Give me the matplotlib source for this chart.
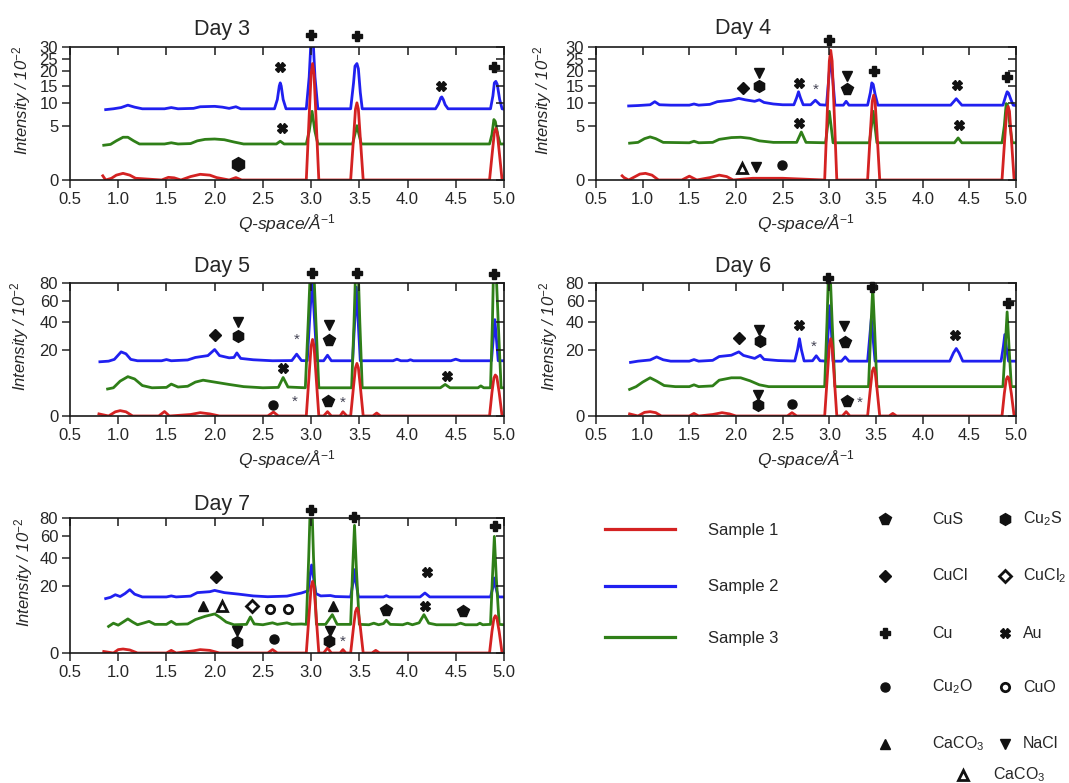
import numpy as np
import matplotlib
matplotlib.use('Agg')
import matplotlib.pyplot as plt

plt.rcParams['font.family'] = ['Liberation Sans', 'DejaVu Sans']
plt.rcParams['mathtext.fontset'] = 'custom'
plt.rcParams['mathtext.rm'] = 'Liberation Sans'
plt.rcParams['mathtext.it'] = 'Liberation Sans:italic'
plt.rcParams['mathtext.bf'] = 'Liberation Sans:bold'

# ---------------- data (Q in 1/Angstrom, intensity in 10^2 units) ----------------
DAYS = ['Day 3', 'Day 4', 'Day 5', 'Day 6', 'Day 7']
X_TICKS = [0.5, 1.0, 1.5, 2.0, 2.5, 3.0, 3.5, 4.0, 4.5, 5.0]
Y_TICKS_LOW = [0, 5, 10, 15, 20, 25, 30]
Y_TICKS_HIGH = [0, 20, 40, 60, 80]

day3_sample1 = [(0.84, 0.03), (0.87, 0.0), (0.93, 0.005), (0.98, 0.04), (1.05, 0.075), (1.12, 0.04), (1.18, 0.005),
                (1.45, 0.0), (1.52, 0.012), (1.58, 0.008), (1.65, 0.0), (1.75, 0.02), (1.85, 0.055), (1.95, 0.04),
                (2.02, 0.01), (2.15, 0.0), (2.22, 0.01), (2.28, 0.0),
                (2.95, 0.0), (2.98, 7), (3.0, 19), (3.015, 23), (3.03, 19), (3.05, 7), (3.08, 0.0),
                (3.41, 0.0), (3.44, 3), (3.46, 8.5), (3.475, 10.1), (3.49, 8.5), (3.51, 3), (3.54, 0.0),
                (4.85, 0.0), (4.88, 1.4), (4.9, 3.8), (4.915, 4.5), (4.93, 3.8), (4.95, 1.4), (4.98, 0.0), (5.0, 0.0)]
day3_sample2 = [(0.87, 8.4), (0.95, 8.6), (1.03, 8.9), (1.1, 9.5), (1.17, 9.0), (1.25, 8.6), (1.48, 8.6), (1.55, 8.9),
                (1.62, 8.6), (1.78, 8.7), (1.85, 9.1), (2.0, 9.2), (2.08, 9.0), (2.15, 8.7), (2.22, 9.1), (2.27, 8.6),
                (2.62, 8.6), (2.65, 11), (2.67, 15), (2.68, 16), (2.69, 15), (2.71, 11), (2.74, 8.6),
                (2.95, 8.6), (2.98, 18), (3.0, 34), (3.01, 40), (3.02, 34), (3.04, 18), (3.07, 8.6),
                (3.41, 8.6), (3.44, 16), (3.455, 22), (3.475, 23), (3.49, 21), (3.51, 13), (3.53, 8.6),
                (4.29, 8.6), (4.32, 9.8), (4.345, 11.5), (4.355, 11.7), (4.37, 11.0), (4.39, 9.6), (4.42, 8.6),
                (4.86, 8.6), (4.885, 12), (4.9, 16), (4.915, 16.5), (4.93, 15.5), (4.955, 11), (4.98, 8.6), (5.0, 8.5)]
day3_sample3 = [(0.85, 2.05), (0.92, 2.15), (0.98, 2.6), (1.05, 3.1), (1.1, 3.1), (1.16, 2.6), (1.22, 2.2), (1.48, 2.2),
                (1.55, 2.35), (1.62, 2.2), (1.75, 2.25), (1.82, 2.6), (1.9, 2.8), (2.0, 2.85), (2.1, 2.75), (2.2, 2.45),
                (2.3, 2.2), (2.64, 2.2), (2.68, 2.55), (2.72, 2.2),
                (2.95, 2.2), (2.98, 4), (3.01, 8), (3.04, 4), (3.07, 2.2),
                (3.43, 2.2), (3.475, 5), (3.52, 2.2),
                (4.85, 2.2), (4.875, 3.5), (4.895, 6.2), (4.91, 5.8), (4.935, 3.5), (4.96, 2.2), (5.0, 2.2)]

day4_sample1 = [(0.78, 0.03), (0.8, 0.01), (0.85, 0.0), (0.92, 0.02), (0.97, 0.06), (1.03, 0.075), (1.1, 0.04), (1.17, 0.0),
                (1.42, 0.0), (1.5, 0.025), (1.58, 0.0), (1.72, 0.01), (1.82, 0.04), (1.9, 0.02), (1.97, 0.0),
                (2.18, 0.005), (2.5, 0.005),
                (2.95, 0.0), (2.98, 9), (3.0, 24), (3.015, 28.5), (3.03, 24), (3.05, 9), (3.08, 0.0),
                (3.41, 0.0), (3.44, 4), (3.46, 10.5), (3.475, 12.2), (3.49, 10.5), (3.51, 4), (3.54, 0.0),
                (4.85, 0.0), (4.88, 3), (4.9, 8), (4.915, 9.2), (4.93, 8), (4.95, 3), (4.98, 0.0), (5.0, 0.0)]
day4_sample2 = [(0.85, 9.3), (0.95, 9.4), (1.08, 9.6), (1.13, 10.4), (1.18, 9.6), (1.3, 9.5), (1.5, 9.5), (1.55, 9.8),
                (1.6, 9.5), (1.72, 9.7), (1.8, 10.4), (1.95, 10.8), (2.03, 11.3), (2.1, 10.9), (2.2, 10.5), (2.25, 10.9),
                (2.3, 10.2), (2.4, 9.8), (2.5, 9.6),
                (2.62, 9.6), (2.65, 11.5), (2.67, 13.2), (2.69, 11.5), (2.72, 9.6),
                (2.8, 9.6), (2.85, 10.8), (2.9, 9.6),
                (2.97, 9.5), (3.0, 20), (3.015, 24), (3.03, 20), (3.06, 9.5),
                (3.15, 9.5), (3.18, 10.5), (3.21, 9.5),
                (3.41, 9.5), (3.44, 13), (3.455, 16), (3.47, 15.5), (3.49, 12.5), (3.52, 9.5),
                (4.3, 9.5), (4.36, 11.2), (4.42, 9.5),
                (4.86, 9.5), (4.89, 12), (4.905, 13.2), (4.92, 12.8), (4.945, 11), (4.97, 9.5), (5.0, 9.4)]
day4_sample3 = [(0.86, 2.3), (0.95, 2.4), (1.02, 2.9), (1.08, 3.15), (1.14, 2.9), (1.22, 2.4), (1.5, 2.35), (1.55, 2.55),
                (1.6, 2.35), (1.75, 2.4), (1.82, 2.8), (1.95, 3.05), (2.05, 3.1), (2.15, 2.95), (2.25, 2.6), (2.4, 2.4),
                (2.65, 2.4), (2.7, 3.9), (2.75, 2.4),
                (2.96, 2.35), (3.0, 8), (3.04, 2.35),
                (3.43, 2.35), (3.47, 8), (3.51, 2.35),
                (4.34, 2.35), (4.38, 3.0), (4.42, 2.35),
                (4.85, 2.35), (4.875, 5), (4.895, 9.9), (4.91, 9.5), (4.935, 5), (4.96, 2.35), (5.0, 2.35)]

day5_sample1 = [(0.8, 0.02), (0.9, 0.0), (0.97, 0.08), (1.02, 0.13), (1.08, 0.08), (1.15, 0.0), (1.42, 0.0), (1.48, 0.09),
                (1.53, 0.0), (1.75, 0.01), (1.85, 0.05), (1.95, 0.02), (2.05, 0.0), (2.55, 0.0), (2.61, 0.07), (2.66, 0.0),
                (2.95, 0.0), (2.98, 8), (3.0, 22), (3.015, 26.5), (3.03, 22), (3.05, 8), (3.08, 0.0),
                (3.13, 0.0), (3.17, 0.085), (3.21, 0.0), (3.3, 0.0), (3.33, 0.08), (3.37, 0.0),
                (3.41, 0.0), (3.44, 4), (3.46, 10.5), (3.475, 12.5), (3.49, 10.5), (3.51, 4), (3.54, 0.0),
                (3.64, 0.0), (3.68, 0.04), (3.72, 0.0),
                (4.85, 0.0), (4.875, 2.5), (4.895, 6.5), (4.91, 7.6), (4.925, 7.0), (4.95, 2.5), (4.98, 0.0), (5.0, 0.0)]
day5_sample2 = [(0.81, 13.3), (0.9, 13.6), (0.96, 14.5), (1.03, 18.6), (1.08, 17.5), (1.13, 14.5), (1.2, 13.8),
                (1.45, 13.8), (1.5, 14.4), (1.55, 13.8), (1.72, 14.2), (1.8, 15.5), (1.93, 16.5), (2.0, 20), (2.05, 16.5),
                (2.15, 15.3), (2.2, 15.5), (2.23, 18), (2.27, 15), (2.4, 14.3), (2.6, 13.8), (2.8, 13.9), (2.85, 17.3),
                (2.9, 13.9),
                (2.96, 13.8), (2.99, 50), (3.01, 85), (3.03, 50), (3.06, 13.8),
                (3.13, 13.8), (3.17, 16.7), (3.21, 13.8),
                (3.43, 13.8), (3.455, 45), (3.47, 75), (3.485, 45), (3.51, 13.8),
                (3.85, 13.8), (3.89, 14.6), (3.93, 13.8), (4.0, 13.8), (4.03, 14.3), (4.06, 13.8), (4.45, 13.8),
                (4.5, 14.6), (4.55, 13.8),
                (4.87, 13.8), (4.89, 28), (4.905, 42), (4.92, 28), (4.94, 13.8), (5.0, 13.8)]
day5_sample3 = [(0.89, 3.3), (0.95, 3.6), (1.02, 5.5), (1.1, 7.0), (1.17, 6.2), (1.25, 4.2), (1.35, 3.6), (1.5, 3.7),
                (1.55, 4.6), (1.62, 3.8), (1.72, 4.0), (1.8, 5.2), (1.88, 5.8), (2.0, 5.2), (2.15, 4.5), (2.3, 3.9),
                (2.5, 3.6), (2.66, 3.7), (2.71, 6.7), (2.76, 3.8),
                (2.94, 3.6), (2.97, 40), (2.99, 90), (3.03, 90), (3.05, 40), (3.08, 3.6),
                (3.42, 3.6), (3.445, 40), (3.46, 90), (3.49, 90), (3.505, 40), (3.53, 3.6),
                (4.34, 3.6), (4.39, 4.5), (4.44, 3.6), (4.73, 3.6), (4.76, 4.1), (4.79, 3.6),
                (4.86, 3.6), (4.88, 40), (4.89, 90), (4.92, 90), (4.94, 40), (4.97, 3.6), (5.0, 3.6)]

day6_sample1 = [(0.86, 0.02), (0.95, 0.0), (1.02, 0.06), (1.08, 0.085), (1.14, 0.05), (1.2, 0.0), (1.5, 0.0), (1.55, 0.03),
                (1.6, 0.0), (1.75, 0.01), (1.85, 0.05), (1.93, 0.02), (2.0, 0.0), (2.55, 0.0), (2.6, 0.05), (2.65, 0.0),
                (2.95, 0.0), (2.98, 8), (3.0, 22), (3.015, 27), (3.03, 22), (3.05, 8), (3.08, 0.0),
                (3.14, 0.0), (3.18, 0.085), (3.22, 0.0),
                (3.41, 0.0), (3.44, 3.5), (3.46, 9), (3.475, 10.5), (3.49, 9), (3.51, 3.5), (3.54, 0.0),
                (3.64, 0.0), (3.68, 0.03), (3.72, 0.0),
                (4.85, 0.0), (4.875, 2.3), (4.895, 6), (4.91, 7), (4.925, 6.4), (4.95, 2.3), (4.98, 0.0), (5.0, 0.0)]
day6_sample2 = [(0.87, 13.0), (0.95, 13.6), (1.08, 14.2), (1.15, 15.8), (1.22, 14.3), (1.3, 13.6), (1.5, 13.6),
                (1.55, 14.4), (1.6, 13.6), (1.75, 14.0), (1.82, 16.0), (1.95, 16.7), (2.03, 18.6), (2.08, 16.6),
                (2.2, 15.0), (2.26, 16.7), (2.3, 14.5), (2.45, 13.9), (2.6, 13.7),
                (2.63, 13.7), (2.66, 20), (2.68, 27), (2.7, 20), (2.73, 13.7),
                (2.82, 13.8), (2.86, 16.4), (2.9, 13.8),
                (2.97, 13.6), (2.99, 35), (3.005, 55), (3.02, 35), (3.04, 13.6),
                (3.13, 13.6), (3.17, 15.8), (3.21, 13.6),
                (3.41, 13.6), (3.435, 30), (3.45, 43), (3.465, 30), (3.49, 13.6),
                (4.29, 13.6), (4.33, 18), (4.36, 20.6), (4.39, 18), (4.43, 13.6),
                (4.84, 13.6), (4.865, 22), (4.88, 30), (4.895, 22), (4.92, 13.6), (5.0, 13.6)]
day6_sample3 = [(0.86, 3.2), (0.93, 3.9), (1.0, 5.2), (1.08, 6.6), (1.15, 5.5), (1.23, 4.2), (1.35, 3.9), (1.5, 3.9),
                (1.55, 4.4), (1.6, 3.9), (1.75, 4.1), (1.82, 5.8), (1.95, 6.6), (2.05, 6.6), (2.15, 5.6), (2.25, 4.4),
                (2.35, 3.9),
                (2.95, 3.9), (2.975, 40), (2.99, 90), (3.01, 90), (3.03, 40), (3.06, 3.9),
                (3.42, 3.9), (3.445, 35), (3.465, 75), (3.485, 35), (3.51, 3.9),
                (4.86, 3.9), (4.885, 22), (4.905, 49), (4.925, 22), (4.95, 3.9), (5.0, 3.9)]

day7_sample1 = [(0.85, 0.01), (0.95, 0.0), (1.0, 0.05), (1.05, 0.07), (1.12, 0.04), (1.2, 0.0), (1.5, 0.0), (1.55, 0.03),
                (1.6, 0.0), (1.78, 0.02), (1.85, 0.05), (1.95, 0.03), (2.05, 0.0), (2.55, 0.0), (2.6, 0.05), (2.65, 0.0),
                (2.95, 0.0), (2.98, 7), (3.0, 19), (3.015, 22.5), (3.03, 19), (3.05, 7), (3.08, 0.0),
                (3.13, 0.0), (3.17, 0.11), (3.21, 0.0), (3.3, 0.0), (3.33, 0.05), (3.36, 0.0),
                (3.41, 0.0), (3.44, 3), (3.46, 7.5), (3.475, 8.9), (3.49, 7.5), (3.51, 3), (3.54, 0.0),
                (3.63, 0.0), (3.67, 0.03), (3.71, 0.0),
                (4.85, 0.0), (4.875, 2), (4.895, 5.2), (4.91, 6.1), (4.925, 5.5), (4.95, 2), (4.98, 0.0), (5.0, 0.0)]
day7_sample2 = [(0.87, 13.0), (0.92, 13.6), (0.97, 14.9), (1.02, 14.0), (1.07, 15.5), (1.12, 17.6), (1.17, 15.2),
                (1.25, 13.8), (1.5, 13.8), (1.55, 14.3), (1.6, 13.8), (1.75, 14.2), (1.82, 16.0), (1.95, 16.5),
                (2.0, 17.2), (2.1, 16.0), (2.25, 15.2), (2.4, 14.3), (2.55, 13.9), (2.75, 14.2), (2.9, 15.8),
                (2.97, 17), (2.99, 27), (3.005, 34), (3.02, 27), (3.05, 15.5),
                (3.1, 14.3), (3.2, 14.5), (3.25, 14.0),
                (3.41, 13.8), (3.435, 22), (3.45, 30.5), (3.465, 22), (3.49, 13.8),
                (3.75, 13.8), (3.78, 14.4), (3.81, 13.8), (4.13, 13.8), (4.18, 15.8), (4.23, 13.8),
                (4.86, 13.8), (4.885, 19), (4.9, 24.7), (4.915, 19), (4.94, 13.8), (5.0, 13.8)]
day7_sample3 = [(0.9, 3.1), (0.95, 3.9), (1.0, 3.4), (1.05, 4.2), (1.1, 5.1), (1.15, 4.2), (1.2, 3.5), (1.27, 4.0),
                (1.32, 4.4), (1.38, 3.6), (1.5, 3.6), (1.55, 4.4), (1.6, 3.6), (1.72, 3.7), (1.8, 4.9), (1.9, 5.9),
                (2.0, 6.7), (2.06, 5.5), (2.12, 4.2), (2.2, 3.5), (2.33, 3.6), (2.37, 5.7), (2.41, 3.7), (2.5, 3.5),
                (2.6, 4.0), (2.65, 3.6), (2.75, 4.0), (2.8, 3.6), (2.9, 3.7),
                (2.95, 3.6), (2.975, 40), (2.99, 90), (3.01, 90), (3.025, 40), (3.055, 3.6),
                (3.15, 3.6), (3.22, 6.45), (3.27, 3.6),
                (3.41, 3.6), (3.43, 30), (3.45, 71.5), (3.47, 30), (3.5, 3.6),
                (3.6, 3.5), (3.65, 3.9), (3.7, 3.5), (3.75, 3.8), (3.78, 4.7), (3.82, 3.6), (3.95, 3.5), (4.0, 3.9),
                (4.05, 3.5), (4.12, 4.0), (4.17, 6.45), (4.22, 3.9), (4.3, 3.5), (4.5, 3.5), (4.55, 3.9), (4.6, 3.5),
                (4.72, 3.5), (4.75, 3.9), (4.78, 3.5),
                (4.86, 3.6), (4.88, 25), (4.9, 59.7), (4.92, 25), (4.95, 3.6), (5.0, 3.5)]

# phase markers: (phase, Q, intensity)
day3_marks = [('Cu', 3.0, 35.8), ('Cu', 3.48, 35.0), ('Cu', 4.9, 21.7),
              ('Au', 2.68, 21.7), ('Au', 4.35, 15.0), ('Au', 2.7, 4.5),
              ('Cu2S_big', 2.245, 0.41)]
day4_marks = [('Cu', 3.0, 33.4), ('Cu', 3.48, 20.05), ('Cu', 4.9, 18.0),
              ('CuCl', 2.075, 14.5), ('NaCl', 2.25, 19.4), ('Cu2S', 2.25, 14.9),
              ('Au', 2.67, 15.8), ('*', 2.85, 13.9), ('NaCl', 3.19, 18.25), ('CuS', 3.19, 13.9),
              ('Au', 4.37, 15.4), ('Au', 4.39, 5.2), ('Au', 2.67, 5.6),
              ('CaCO3_open', 2.06, 0.23), ('NaCl', 2.21, 0.3), ('Cu2O', 2.49, 0.38)]
day5_marks = [('Cu', 3.01, 92.4), ('Cu', 3.48, 92.4), ('Cu', 4.9, 91.6),
              ('CuCl', 2.0, 30), ('NaCl', 2.24, 40), ('Cu2S', 2.245, 29), ('*', 2.85, 26),
              ('NaCl', 3.19, 37.3), ('CuS', 3.19, 26), ('Au', 2.71, 10.5), ('Au', 4.41, 7.3),
              ('Cu2O', 2.61, 0.54), ('*', 2.83, 0.92), ('CuS', 3.18, 1.06), ('*', 3.33, 0.8)]
day6_marks = [('Cu', 2.985, 86.1), ('Cu', 3.46, 75.3), ('Cu', 4.91, 57.8),
              ('CuCl', 2.03, 27.6), ('NaCl', 2.25, 33.8), ('Cu2S', 2.26, 25.5), ('Au', 2.67, 37.8),
              ('*', 2.83, 21.6), ('NaCl', 3.16, 36.45), ('CuS', 3.17, 24.9), ('Au', 4.35, 30),
              ('NaCl', 2.24, 1.98), ('Cu2S', 2.24, 0.54), ('Cu2O', 2.6, 0.61), ('CuS', 3.19, 1.06),
              ('*', 3.33, 0.8)]
day7_marks = [('Cu', 3.0, 90.2), ('Cu', 3.44, 80.8), ('Cu', 4.91, 70.4),
              ('CuCl', 2.01, 25.4), ('Au', 4.2, 28.6),
              ('CaCO3', 1.88, 9.83), ('CaCO3_open', 2.08, 9.83), ('CuCl2', 2.39, 9.56),
              ('CuO', 2.57, 8.5), ('CuO', 2.76, 8.5), ('CaCO3', 3.23, 9.83), ('CuS', 3.78, 8.24),
              ('Au', 4.18, 9.56), ('CuS', 4.57, 7.87),
              ('NaCl', 2.23, 2.06), ('Cu2S', 2.23, 0.5), ('Cu2O', 2.62, 0.86),
              ('NaCl', 3.2, 2.06), ('Cu2S', 3.19, 0.6), ('*', 3.33, 0.6)]

SAMPLE_NAMES = ['Sample 1', 'Sample 2', 'Sample 3']
PHASE_ROWS = [[('CuS', 'CuS'), ('Cu2S', r'Cu$_\mathregular{2}$S')],
              [('CuCl', 'CuCl'), ('CuCl2', r'CuCl$_\mathregular{2}$')],
              [('Cu', 'Cu'), ('Au', 'Au')],
              [('Cu2O', r'Cu$_\mathregular{2}$O'), ('CuO', 'CuO')],
              [('CaCO3', r'CaCO$_\mathregular{3}$'), ('NaCl', 'NaCl')]]
EXTRA_PHASE = ('CaCO3_open', r'CaCO$_\mathregular{3}$')

# ---------------- styles / layout ----------------
COLORS = {'Sample 1': '#d42222', 'Sample 2': '#2020f0', 'Sample 3': '#2f7f18'}
K = '#111111'
PHASE_STYLE = {
    'CuS': dict(marker='p', ms=8.5, mfc=K, mec=K),
    'Cu2S': dict(marker='h', ms=8.5, mfc=K, mec=K),
    'Cu2S_big': dict(marker='h', ms=10, mfc=K, mec=K),
    'CuCl': dict(marker='D', ms=6, mfc=K, mec=K),
    'CuCl2': dict(marker='D', ms=6, mfc='white', mec=K, mew=2),
    'Cu': dict(marker='P', ms=7.5, mfc=K, mec=K),
    'Au': dict(marker='X', ms=6.5, mfc=K, mec=K),
    'Cu2O': dict(marker='o', ms=6.5, mfc=K, mec=K),
    'CuO': dict(marker='o', ms=6, mfc='white', mec=K, mew=2),
    'CaCO3': dict(marker='^', ms=7, mfc=K, mec=K),
    'NaCl': dict(marker='v', ms=7, mfc=K, mec=K),
    'CaCO3_open': dict(marker='^', ms=7, mfc='white', mec=K, mew=2),
}

W, H = 1069, 783
# (left, top, right, bottom) in pixels, scale kind, title y, ylabel x, show xlabel
PANELS = [
    (70, 47, 504, 180, 'low', 1.09, -0.085, True),
    (596, 47, 1016, 180, 'low', 1.10, -0.10, True),
    (70, 283, 504, 416, 'high', 1.083, -0.09, True),
    (596, 283, 1016, 416, 'high', 1.083, -0.085, True),
    (70, 518, 504, 653, 'high', 1.057, -0.08, False),
]
SERIES = [
    (day3_sample1, day3_sample2, day3_sample3, day3_marks),
    (day4_sample1, day4_sample2, day4_sample3, day4_marks),
    (day5_sample1, day5_sample2, day5_sample3, day5_marks),
    (day6_sample1, day6_sample2, day6_sample3, day6_marks),
    (day7_sample1, day7_sample2, day7_sample3, day7_marks),
]


def fwd(v):
    return np.sqrt(np.clip(v, 0, None))


def inv(v):
    return np.square(v)


TXT = '#262626'
fig = plt.figure(figsize=(W / 100, H / 100), dpi=100)

for (l, t, r, b, kind, ty, ylx, show_xlabel), (s1, s2, s3, marks), day in zip(PANELS, SERIES, DAYS):
    ax = fig.add_axes([l / W, 1 - b / H, (r - l) / W, (b - t) / H])
    ax.set_yscale('function', functions=(fwd, inv))
    yt = Y_TICKS_LOW if kind == 'low' else Y_TICKS_HIGH
    ylim = (0, yt[-1])
    # draw blue, green, red (red on top)
    for data, name in ((s2, 'Sample 2'), (s3, 'Sample 3'), (s1, 'Sample 1')):
        q, inten = zip(*data)
        ax.plot(q, inten, color=COLORS[name], lw=2.0, solid_joinstyle='round', zorder=2)
    for phase, q, v in marks:
        if phase == '*':
            ax.text(q, v, '*', ha='center', va='center', fontsize=11, color='#444455',
                    clip_on=False, zorder=6)
        else:
            ax.plot([q], [v], ls='none', clip_on=False, zorder=6, **PHASE_STYLE[phase])
    ax.set_xlim(0.5, 5.0)
    ax.set_ylim(*ylim)
    ax.set_xticks(X_TICKS)
    ax.set_xticklabels([f'{x:.1f}' for x in X_TICKS])
    ax.set_yticks(yt)
    ax.set_yticklabels([str(y) for y in yt])
    ax.minorticks_off()
    ax.tick_params(axis='both', direction='out', length=6, width=1.1, labelsize=12,
                   colors=TXT, pad=2.5)
    for s in ax.spines.values():
        s.set_linewidth(1.2)
        s.set_color('#1a1a1a')
    ax.set_ylabel(r'Intensity / 10$^{\mathit{-2}}$', fontsize=12, style='italic', color=TXT)
    ax.yaxis.set_label_coords(ylx, 0.6)
    if show_xlabel:
        ax.set_xlabel(r'Q-space/Å$^{\mathit{-1}}$', fontsize=12.5, style='italic', color=TXT, labelpad=4)
    ax.text(0.35, ty, day, transform=ax.transAxes, ha='center', va='baseline', fontsize=15.5, color=TXT)

    # mirror ticks (inward) on right and top
    axr = ax.twinx()
    axr.set_yscale('function', functions=(fwd, inv))
    axr.set_ylim(*ylim)
    axr.set_yticks(yt)
    axr.minorticks_off()
    axr.tick_params(axis='y', direction='in', length=6, width=1.1, labelright=False, colors='#1a1a1a')
    for s in axr.spines.values():
        s.set_visible(False)
    axt = ax.twiny()
    axt.set_xlim(0.5, 5.0)
    axt.set_xticks(X_TICKS)
    axt.minorticks_off()
    axt.tick_params(axis='x', direction='in', length=6, width=1.1, labeltop=False, colors='#1a1a1a')
    for s in axt.spines.values():
        s.set_visible(False)

# ---------------- legends (overlay in pixel coordinates) ----------------
ov = fig.add_axes([0, 0, 1, 1])
ov.set_xlim(0, W)
ov.set_ylim(H, 0)
ov.axis('off')

for name, y in zip(SAMPLE_NAMES, [529, 586, 637]):
    ov.plot([605, 675], [y, y], color=COLORS[name], lw=2.3)
    ov.text(708, y + 1, name, ha='left', va='center', fontsize=12, color=TXT)

row_y = [519, 576, 633, 687, 744]
for row, y in zip(PHASE_ROWS, row_y):
    (k1, lab1), (k2, lab2) = row
    ov.plot([885], [y], ls='none', **PHASE_STYLE[k1])
    ov.text(932, y, lab1, ha='left', va='center', fontsize=11.5, color=TXT)
    ov.plot([1005], [y], ls='none', **PHASE_STYLE[k2])
    ov.text(1023, y, lab2, ha='left', va='center', fontsize=11.5, color=TXT)
ov.plot([963], [775], ls='none', **PHASE_STYLE[EXTRA_PHASE[0]])
ov.text(993, 775, EXTRA_PHASE[1], ha='left', va='center', fontsize=11.5, color=TXT)

fig.savefig('out.png', dpi=100)
